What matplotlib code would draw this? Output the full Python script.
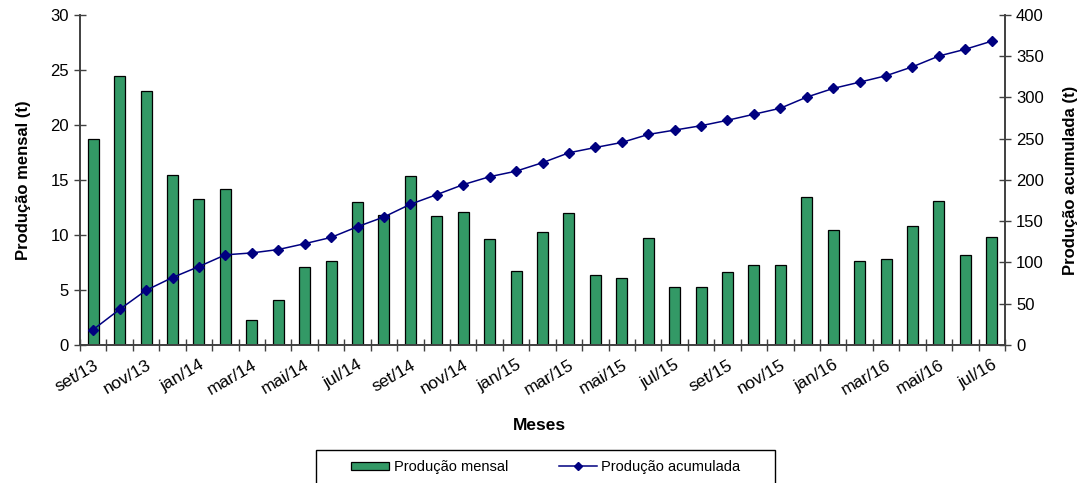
import matplotlib.pyplot as plt
from matplotlib.patches import Rectangle
from matplotlib.lines import Line2D
import numpy as np

plt.rcParams['font.family'] = ['Liberation Sans', 'DejaVu Sans']

months = ["set/13", "out/13", "nov/13", "dez/13", "jan/14", "fev/14", "mar/14", "abr/14",
          "mai/14", "jun/14", "jul/14", "ago/14", "set/14", "out/14", "nov/14", "dez/14",
          "jan/15", "fev/15", "mar/15", "abr/15", "mai/15", "jun/15", "jul/15", "ago/15",
          "set/15", "out/15", "nov/15", "dez/15", "jan/16", "fev/16", "mar/16", "abr/16",
          "mai/16", "jun/16", "jul/16"]

monthly = [18.7, 24.5, 23.1, 15.5, 13.3, 14.2, 2.3, 4.1, 7.1, 7.6, 13.0, 11.8, 15.4,
           11.7, 12.1, 9.6, 6.7, 10.3, 12.0, 6.4, 6.1, 9.7, 5.3, 5.3, 6.6, 7.3, 7.3,
           13.5, 10.5, 7.6, 7.8, 10.8, 13.1, 8.2, 9.8]

cumulative = [18.7, 43.2, 66.3, 81.8, 95.1, 109.3, 111.6, 115.7, 122.8, 130.4, 143.4,
              155.2, 170.6, 182.3, 194.4, 204.0, 210.7, 221.0, 233.0, 239.4, 245.5,
              255.2, 260.5, 265.8, 272.4, 279.7, 287.0, 300.5, 311.0, 318.6, 326.4,
              337.2, 350.3, 358.5, 368.3]

x = np.arange(len(months))
green = "#339966"
navy = "#000080"
axis_col = "#404040"

fig = plt.figure(figsize=(10.87, 4.83), dpi=100)
ax = fig.add_axes([80 / 1087, 1 - 345 / 483, 925 / 1087, 330 / 483])
ax2 = ax.twinx()

ax.bar(x, monthly, width=0.42, color=green, edgecolor="black", linewidth=0.9, zorder=2)
ax2.plot(x, cumulative, color=navy, marker="D", markersize=5, linewidth=1.1, zorder=3)

ax.set_xlim(-0.5, len(months) - 0.5)
ax.set_ylim(0, 30)
ax2.set_ylim(0, 400)
ax.set_yticks(range(0, 31, 5))
ax2.set_yticks(range(0, 401, 50))

# tick marks at category boundaries, labels every other month
ax.set_xticks(np.arange(-0.5, len(months), 1.0))
ax.set_xticklabels([])
ax.set_xticks(x[::2], minor=True)
ax.set_xticklabels(months[::2], minor=True, rotation=30, ha="right",
                   rotation_mode="anchor", fontsize=12.5)
ax.tick_params(axis="x", which="major", direction="inout", length=8, width=1, color=axis_col)
ax.tick_params(axis="x", which="minor", length=0, pad=9)

ax.tick_params(axis="y", direction="inout", length=9, width=1, color=axis_col,
               labelsize=12)
ax2.tick_params(axis="y", direction="inout", length=9, width=1, color=axis_col,
                labelsize=12)

for a in (ax, ax2):
    a.spines["top"].set_visible(False)
    for s in ("left", "right", "bottom"):
        a.spines[s].set_color(axis_col)
        a.spines[s].set_linewidth(1.2)

ax.set_ylabel("Produção mensal (t)", fontsize=12, fontweight="bold", labelpad=14)
ax2.set_ylabel("Produção acumulada (t)", fontsize=12, fontweight="bold", labelpad=14)
fig.text(539 / 1087, 1 - 425 / 483, "Meses", ha="center", va="center",
         fontsize=12.5, fontweight="bold")

# legend box
fig.patches.append(Rectangle((316 / 1087, -0.05), 459 / 1087, 1 - 450 / 483 + 0.05,
                             transform=fig.transFigure, facecolor="white",
                             edgecolor="black", linewidth=1))
handles = [Rectangle((0, 0), 1, 1, facecolor=green, edgecolor="black", linewidth=0.9),
           Line2D([], [], color=navy, marker="D", markersize=4, linewidth=1.1)]
fig.legend(handles, ["Produção mensal", "Produção acumulada"], ncol=2,
           loc="center", bbox_to_anchor=(546 / 1087, 1 - 467 / 483), frameon=False,
           fontsize=10.5, handlelength=2.6, handleheight=0.5, handletextpad=0.3,
           columnspacing=3.5)

fig.savefig("out.png", dpi=100)
